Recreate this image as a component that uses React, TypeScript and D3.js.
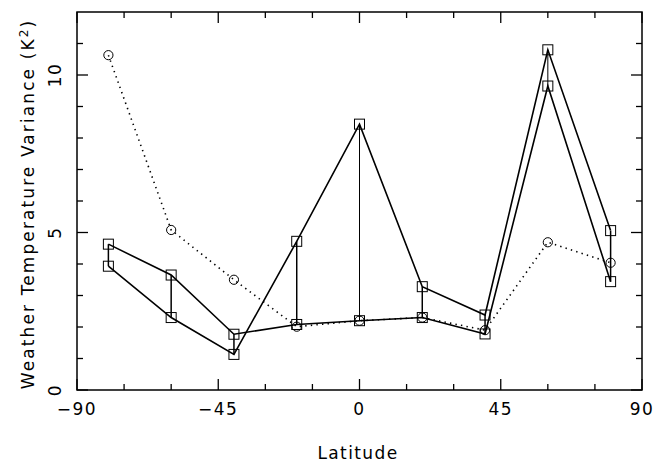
import React from "react";
import * as d3 from "d3";

// Latitudes of the zonal bands
const latitudes = [-80, -60, -40, -20, 0, 20, 40, 60, 80];

// Variance series (K^2)
const seriesA = [4.63, 3.65, 1.77, 2.08, 2.2, 2.3, 1.78, 9.65, 3.44];
const seriesB = [3.93, 2.3, 1.13, 4.72, 8.44, 3.28, 2.38, 10.8, 5.06];
const seriesC = [10.63, 5.08, 3.5, 2.01, 2.2, 2.3, 1.9, 4.69, 4.04];

const xMajorTicks = [-90, -45, 0, 45, 90];
const xMinorTicks = [-75, -60, -30, -15, 15, 30, 60, 75];
const yMajorTicks = [0, 5, 10];
const yMinorTicks = [1, 2, 3, 4, 6, 7, 8, 9, 11];

const W = 656;
const H = 462;
const m = { left: 77, right: 642, top: 12, bottom: 390 };
const FONT = "'DejaVu Sans', 'Liberation Sans', sans-serif";

export default function App() {
  const x = d3.scaleLinear().domain([-90, 90]).range([m.left, m.right]);
  const y = d3.scaleLinear().domain([0, 12]).range([m.bottom, m.top]);

  const line = d3
    .line<number>()
    .x((_, i) => x(latitudes[i]))
    .y((d) => y(d));

  const sq = 10;
  const majLen = 11;
  const minLen = 6;

  return (
    <svg
      width={W}
      height={H}
      style={{ position: "absolute", left: 0, top: 0, background: "#fff" }}
    >
      {/* vertical connectors between the two square series */}
      {latitudes.map((lat, i) => (
        <line
          key={"v" + i}
          x1={x(lat)}
          x2={x(lat)}
          y1={y(seriesA[i])}
          y2={y(seriesB[i])}
          stroke="#000"
          strokeWidth={lat === 0 || lat === 60 ? 1 : 1.5}
        />
      ))}

      {/* dotted circle series */}
      <path
        d={line(seriesC) || ""}
        fill="none"
        stroke="#000"
        strokeWidth={1.6}
        strokeDasharray="1.4 4.2"
      />
      {seriesC.map((v, i) => (
        <circle
          key={"c" + i}
          cx={x(latitudes[i])}
          cy={y(v)}
          r={4.6}
          fill="none"
          stroke="#000"
          strokeWidth={1}
        />
      ))}

      {/* solid square series */}
      {[seriesA, seriesB].map((s, k) => (
        <g key={"s" + k}>
          <path d={line(s) || ""} fill="none" stroke="#000" strokeWidth={1.6} />
          {s.map((v, i) => (
            <rect
              key={i}
              x={x(latitudes[i]) - sq / 2}
              y={y(v) - sq / 2}
              width={sq}
              height={sq}
              fill="none"
              stroke="#000"
              strokeWidth={1}
            />
          ))}
        </g>
      ))}

      {/* frame */}
      <rect
        x={m.left}
        y={m.top}
        width={m.right - m.left}
        height={m.bottom - m.top}
        fill="none"
        stroke="#000"
        strokeWidth={1.5}
      />

      {/* x ticks, bottom and top, pointing inward */}
      {xMajorTicks.concat(xMinorTicks).map((t) => {
        const len = xMajorTicks.includes(t) ? majLen : minLen;
        return (
          <g key={"xt" + t}>
            <line x1={x(t)} x2={x(t)} y1={m.bottom} y2={m.bottom - len} stroke="#000" strokeWidth={1.3} />
            <line x1={x(t)} x2={x(t)} y1={m.top} y2={m.top + len} stroke="#000" strokeWidth={1.3} />
          </g>
        );
      })}

      {/* y ticks, left and right, pointing inward */}
      {yMajorTicks.concat(yMinorTicks).map((t) => {
        const len = yMajorTicks.includes(t) ? majLen : minLen;
        return (
          <g key={"yt" + t}>
            <line x1={m.left} x2={m.left + len} y1={y(t)} y2={y(t)} stroke="#000" strokeWidth={1.3} />
            <line x1={m.right} x2={m.right - len} y1={y(t)} y2={y(t)} stroke="#000" strokeWidth={1.3} />
          </g>
        );
      })}

      {/* x tick labels */}
      {xMajorTicks.map((t) => (
        <text
          key={"xl" + t}
          x={x(t)}
          y={415}
          textAnchor="middle"
          fontFamily={FONT}
          fontSize={17}
          letterSpacing={1.5}
          fill="#000"
        >
          {t < 0 ? "\u2212" + Math.abs(t) : String(t)}
        </text>
      ))}

      {/* y tick labels, rotated */}
      {yMajorTicks.map((t) => (
        <text
          key={"yl" + t}
          transform={`translate(61,${y(t)}) rotate(-90)`}
          textAnchor="middle"
          fontFamily={FONT}
          fontSize={17}
          letterSpacing={1.5}
          fill="#000"
        >
          {String(t)}
        </text>
      ))}

      {/* axis titles */}
      <text
        x={358}
        y={459}
        textAnchor="middle"
        fontFamily={FONT}
        fontSize={17}
        letterSpacing={1.4}
        fill="#000"
      >
        Latitude
      </text>
      <text
        transform="translate(34,204) rotate(-90)"
        textAnchor="middle"
        fontFamily={FONT}
        fontSize={17}
        letterSpacing={2.1}
        fill="#000"
      >
        Weather Temperature Variance (K
        <tspan dy={-6} fontSize={12}>2</tspan>
        <tspan dy={6}>)</tspan>
      </text>
    </svg>
  );
}
